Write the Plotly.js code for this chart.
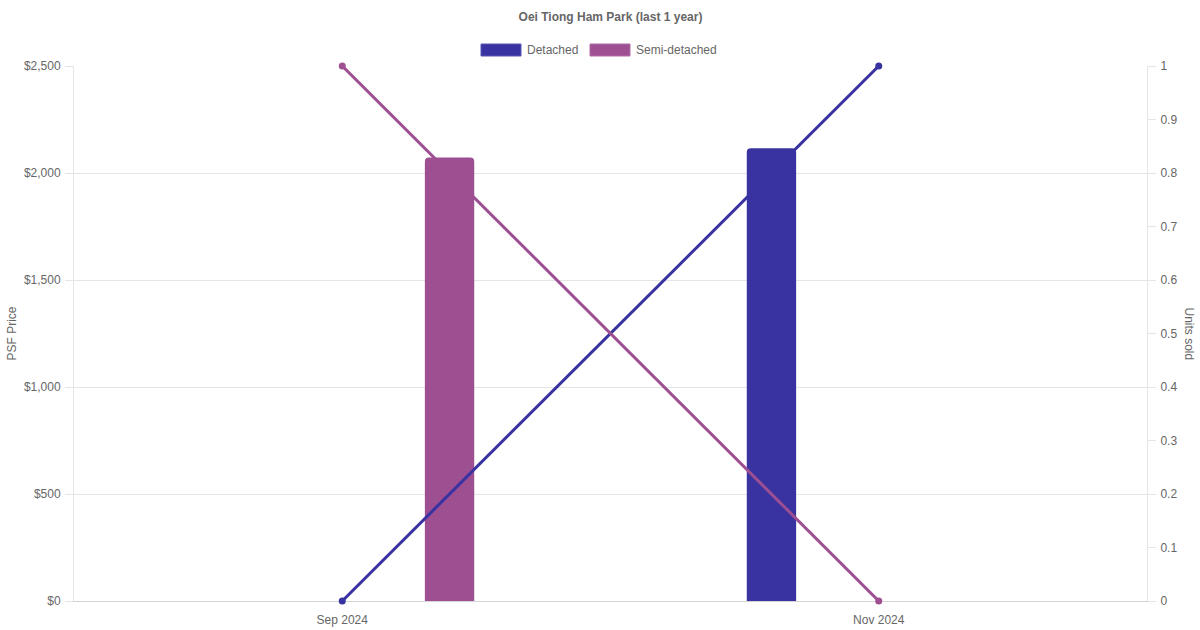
<!DOCTYPE html>
<html>
<head>
<meta charset="utf-8">
<script src="https://cdn.plot.ly/plotly-3.0.1.min.js"></script>
<style>html,body{margin:0;padding:0;background:#fff;}#chart{width:1200px;height:630px;}</style>
</head>
<body>
<div id="chart"></div>
<script>
const categories = ['Sep 2024', 'Nov 2024'];
const detachedPsf = [null, 2116];
const semiPsf = [2072, null];
const detachedUnits = [0, 1];
const semiUnits = [1, 0];
const psfTicks = [0, 500, 1000, 1500, 2000, 2500];
const psfTickLabels = ['$0', '$500', '$1,000', '$1,500', '$2,000', '$2,500'];
const unitTicks = [0, 0.1, 0.2, 0.3, 0.4, 0.5, 0.6, 0.7, 0.8, 0.9, 1];
const unitTickLabels = ['0', '0.1', '0.2', '0.3', '0.4', '0.5', '0.6', '0.7', '0.8', '0.9', '1'];

const cDet = '#3833a0';
const cSemi = '#9e4f92';
const grey = 'rgb(102,102,102)';
const font = 'Liberation Sans, Arial, Helvetica, sans-serif';

const traces = [
  {type: 'bar', name: 'Detached', x: categories, y: detachedPsf, marker: {color: cDet}, yaxis: 'y', hoverinfo: 'skip'},
  {type: 'bar', name: 'Semi-detached', x: categories, y: semiPsf, marker: {color: cSemi}, yaxis: 'y', hoverinfo: 'skip'},
  {type: 'scatter', mode: 'lines+markers', name: 'Detached units', x: categories, y: detachedUnits, yaxis: 'y2',
   line: {color: cDet, width: 3}, marker: {color: cDet, size: 7}, cliponaxis: false},
  {type: 'scatter', mode: 'lines+markers', name: 'Semi-detached units', x: categories, y: semiUnits, yaxis: 'y2',
   line: {color: cSemi, width: 3}, marker: {color: cSemi, size: 7}, cliponaxis: false}
];

const W = 1073, L = 74;
function px(x) { return (x - L) / W; }

const layout = {
  width: 1200, height: 630,
  margin: {l: 74, r: 53, t: 66, b: 29, pad: 0},
  paper_bgcolor: '#fff', plot_bgcolor: '#fff',
  font: {family: font, size: 12, color: grey},
  showlegend: false,
  barmode: 'group', bargap: 0.2, bargroupgap: 0.77, barcornerradius: 4,
  title: {text: '<b>Oei Tiong Ham Park (last 1 year)</b>', x: 0.5, xref: 'paper', xanchor: 'center', y: 1 - 17/630, yref: 'container', yanchor: 'middle',
          font: {family: font, size: 12, color: grey}},
  xaxis: {type: 'category', range: [-0.5, 1.5], showgrid: false, zeroline: false, layer: 'below traces', color: grey,
          showline: true, linecolor: '#d4d4d4', linewidth: 1, ticks: '', tickfont: {family: font, size: 12, color: grey}, ticklabelstandoff: 8},
  yaxis: {range: [0, 2500], tickvals: psfTicks, ticktext: psfTickLabels, showgrid: true, gridcolor: '#e5e5e5', color: grey,
          zeroline: false, showline: true, linecolor: '#e5e5e5', ticks: 'outside', ticklen: 8, tickcolor: '#e5e5e5', layer: 'below traces',
          tickfont: {family: font, size: 12, color: grey}, ticklabelstandoff: 2},
  yaxis2: {range: [0, 1], tickvals: unitTicks, ticktext: unitTickLabels, overlaying: 'y', side: 'right', showgrid: false, zeroline: false, color: grey,
           showline: true, linecolor: '#e5e5e5', ticks: 'outside', ticklen: 8, tickcolor: '#e5e5e5', layer: 'below traces',
           tickfont: {family: font, size: 12, color: grey}, ticklabelstandoff: 2},
  shapes: [
    {type: 'rect', xref: 'paper', yref: 'paper', x0: px(481), x1: px(521), y0: (601-56)/535, y1: (601-44)/535,
     fillcolor: cDet, line: {color: '#5a56b5', width: 1}},
    {type: 'rect', xref: 'paper', yref: 'paper', x0: px(590), x1: px(630), y0: (601-56)/535, y1: (601-44)/535,
     fillcolor: cSemi, line: {color: '#b06fa5', width: 1}}
  ],
  annotations: [
    {text: 'Detached', xref: 'paper', yref: 'paper', x: px(525), y: (601-50)/535, xanchor: 'left', yanchor: 'middle', showarrow: false,
     font: {size: 12, color: grey}},
    {text: 'Semi-detached', xref: 'paper', yref: 'paper', x: px(634), y: (601-50)/535, xanchor: 'left', yanchor: 'middle', showarrow: false,
     font: {size: 12, color: grey}},
    {text: 'PSF Price', xref: 'paper', yref: 'paper', x: px(11), y: 0.5, xanchor: 'center', yanchor: 'middle', textangle: -90, showarrow: false,
     font: {size: 12, color: grey}},
    {text: 'Units sold', xref: 'paper', yref: 'paper', x: px(1189), y: 0.5, xanchor: 'center', yanchor: 'middle', textangle: 90, showarrow: false,
     font: {size: 12, color: grey}}
  ]
};

Plotly.newPlot('chart', traces, layout, {displayModeBar: false, staticPlot: true});
</script>
</body>
</html>
